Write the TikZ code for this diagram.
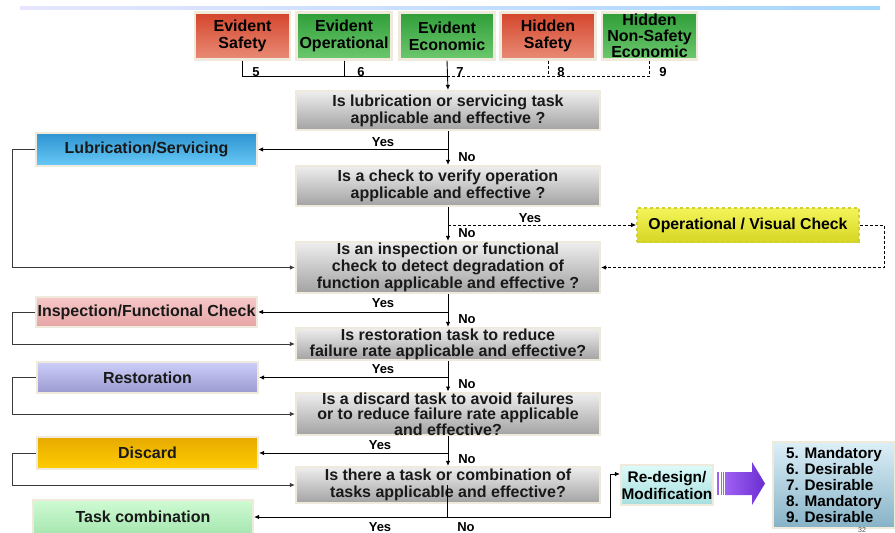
\documentclass[tikz,border=0pt]{standalone}
\usepackage{fontspec}
\setmainfont{Liberation Sans}
\usetikzlibrary{arrows.meta,calc}
\definecolor{edgebeige}{HTML}{EFEADB}
\definecolor{redtop}{HTML}{D4452B}
\definecolor{redbot}{HTML}{E98C77}
\definecolor{greentop}{HTML}{2F9E38}
\definecolor{greenbot}{HTML}{6DC86E}
\definecolor{graytop}{HTML}{EEEEEE}
\definecolor{graybot}{HTML}{A2A2A2}
\definecolor{lubtop}{HTML}{2E93D0}
\definecolor{lubbot}{HTML}{68CAF8}
\definecolor{ovctop}{HTML}{F4F45A}
\definecolor{ovcbot}{HTML}{D6D624}
\definecolor{ovcedge}{HTML}{CFCF3A}
\definecolor{insptop}{HTML}{F6C8C8}
\definecolor{inspbot}{HTML}{E6A4A4}
\definecolor{resttop}{HTML}{CECEFA}
\definecolor{restbot}{HTML}{9A9AD0}
\definecolor{disctop}{HTML}{E6AA00}
\definecolor{discbot}{HTML}{FFCC00}
\definecolor{tasktop}{HTML}{CFFBD3}
\definecolor{taskbot}{HTML}{A6E6B0}
\definecolor{rdtop}{HTML}{DDFAFA}
\definecolor{rdbot}{HTML}{A6DEDE}
\definecolor{restop}{HTML}{DCEFF8}
\definecolor{resbot}{HTML}{86B2C6}
\definecolor{purpA}{HTML}{A060F4}
\definecolor{purpB}{HTML}{6A2ED0}
\definecolor{fbgray}{HTML}{3A3A3A}
\tikzset{
  base/.style={draw=edgebeige, line width=2.2pt, inner sep=0pt, align=center, text=black},
  topbox/.style={base, minimum width=95pt, minimum height=47pt, font=\bfseries\fontsize{16}{17}\selectfont},
  redbox/.style={topbox, top color=redtop, bottom color=redbot},
  greenbox/.style={topbox, top color=greentop, bottom color=greenbot},
  qbox/.style={base, top color=graytop, bottom color=graybot, minimum width=304pt, font=\bfseries\fontsize{16}{17}\selectfont, text=black!90},
  abox/.style={base, minimum width=221pt, font=\bfseries\fontsize{16}{17}\selectfont, text=black!90},
  lbl/.style={inner sep=0pt, font=\bfseries\fontsize{13}{14}\selectfont},
  ln/.style={draw=black, line width=0.9pt},
  dln/.style={ln, dashed, dash pattern=on 3pt off 2pt},
  arr/.style={ln, -{Latex[length=5pt,width=4.5pt]}},
  darr/.style={dln, -{Latex[length=5pt,width=4.5pt]}},
  fbarr/.style={draw=fbgray, line width=0.9pt, -{Latex[length=5pt,width=4.5pt]}},
}
\begin{document}
\begin{tikzpicture}[x=1pt,y=-1pt]
\useasboundingbox (0,0) rectangle (895,533);
% top rule
\shade[left color=blue!10, right color=blue!45!cyan!35] (20,6.5) rectangle (880,9.5);
% top category boxes
\node[redbox]   (es)  at (242.5,36) {Evident\\Safety};
\node[greenbox] (eo)  at (344,36)   {Evident\\Operational};
\node[greenbox] (ee)  at (447,36)   {Evident\\Economic};
\node[redbox]   (hs)  at (548,36)   {Hidden\\Safety};
\node[greenbox, font=\bfseries\fontsize{16}{16}\selectfont] (hns) at (649.5,36) {Hidden\\Non-Safety\\Economic};
\coordinate (j) at (447,76);
\draw[ln] (es.south) |- (j);
\draw[ln] (eo.south) -- (eo.south |- j);
\draw[dln] (j) -| (hns.south);
\draw[dln] (hs.south) -- (hs.south |- j);
\node[lbl] (n5) at (256,72) {5};
\node[lbl] (n6) at (361,72) {6};
\node[lbl] (n7) at (460,72) {7};
\node[lbl] (n8) at (561,72) {8};
\node[lbl] (n9) at (663,72) {9};
% questions
\node[qbox, minimum height=39pt] (q1) at (448,110.5) {Is lubrication or servicing task\\applicable and effective ?};
\node[qbox, minimum height=40pt] (q2) at (448,186) {Is a check to verify operation\\applicable and effective ?};
\node[qbox, minimum height=51pt] (q3) at (448,267.5) {Is an inspection or functional\\check to detect degradation of\\function applicable and effective ?};
\node[qbox, minimum height=32pt, font=\bfseries\fontsize{16}{16}\selectfont] (q4) at (448,344) {Is restoration task to reduce\\failure rate applicable and effective?};
\node[qbox, minimum height=42pt, font=\bfseries\fontsize{16}{15.5}\selectfont] (q5) at (448,414) {Is a discard task to avoid failures\\or to reduce failure rate applicable\\and effective?};
\node[qbox, minimum height=36pt] (q6) at (448,485) {Is there a task or combination of\\tasks applicable and effective?};
% action boxes
\node[abox, minimum height=33pt, top color=lubtop, bottom color=lubbot] (lub) at (146.5,149.5) {Lubrication/Servicing};
\node[abox, minimum height=30pt, top color=insptop, bottom color=inspbot] (insp) at (146.5,312) {Inspection/Functional Check};
\node[abox, minimum height=31pt, top color=resttop, bottom color=restbot] (rest) at (147.5,377.5) {Restoration};
\node[abox, minimum height=32pt, top color=disctop, bottom color=discbot] (disc) at (147.5,453) {Discard};
\node[abox, minimum height=34pt, minimum width=220pt, top color=tasktop, bottom color=taskbot] (task) at (143,517) {Task combination};
\node[base, draw=ovcedge, dashed, line width=1.6pt, minimum width=222pt, minimum height=34pt, top color=ovctop, bottom color=ovcbot, font=\bfseries\fontsize{15.8}{17}\selectfont] (ovc) at (748,225) {Operational / Visual Check};
\node[base, minimum width=92pt, minimum height=40pt, top color=rdtop, bottom color=rdbot, font=\bfseries\fontsize{15.4}{17}\selectfont] (rd) at (667,485) {Re-design/\\Modification};
\node[base, minimum width=122pt, minimum height=86pt, top color=restop, bottom color=resbot, align=left, font=\bfseries\fontsize{15.3}{16}\selectfont] (res) at (834,485) {5. Mandatory\\6. Desirable\\7. Desirable\\8. Mandatory\\9. Desirable};
\node[inner sep=0pt, font=\fontsize{7}{8}\selectfont, text=black!70] (pg) at (862,530) {32};
% purple arrow
\shade[left color=purpA, right color=purpB] (725,472) -- (752,472) -- (752,462) -- (765,483.5) -- (752,505) -- (752,495) -- (725,495) -- cycle;
\fill[purpA] (717,472) rectangle (719,495);
\fill[purpA] (720.5,472) rectangle (722,495);
\fill[purpA] (723,472) rectangle (724,495);
% main flow
\draw[arr] (ee.south) -- (q1.north);
\draw[arr] (q1.south) -- (q2.north);
\draw[arr] (q2.south) -- (q3.north);
\draw[arr] (q3.south) -- (q4.north);
\draw[arr] (q4.south) -- (q5.north);
\draw[arr] (q5.south) -- (q6.north);
% yes branches
\draw[arr] (lub.east -| q1.south) -- (lub.east);
\draw[arr] (insp.east -| q3.south) -- (insp.east);
\draw[arr] (rest.east -| q4.south) -- (rest.east);
\draw[arr] (disc.east -| q5.south) -- (disc.east);
\draw[darr] (ovc.west -| q2.south) -- (ovc.west);
\coordinate (R) at (884,0);
\draw[darr] (ovc.east) -- (ovc.east -| R) |- (q3.east);
% feedback lines
\coordinate (L) at (12,0);
\draw[fbarr] (lub.west) -- (lub.west -| L) |- (q3.west);
\draw[fbarr] (insp.west) -- (insp.west -| L) |- (q4.west);
\draw[fbarr] (rest.west) -- (rest.west -| L) |- (q5.west);
\draw[fbarr] (disc.west) -- (disc.west -| L) |- (q6.west);
% last question
\coordinate (bj) at (447,517);
\coordinate (rj) at (610,517);
\draw[ln] (q6.center -| bj) -- (bj);
\draw[arr] (bj) -- (task.east);
\draw[arr] (bj) -- (rj) |- ($(rd.west)+(0,-11)$);
% labels
\node[lbl] (y1) at (383,142) {Yes};
\node[lbl] (y2) at (530,218) {Yes};
\node[lbl] (y3) at (383,303) {Yes};
\node[lbl] (y4) at (383,369) {Yes};
\node[lbl] (y5) at (380,445) {Yes};
\node[lbl] (y6) at (380,527) {Yes};
\node[lbl] (o1) at (467,157) {No};
\node[lbl] (o2) at (467,233) {No};
\node[lbl] (o3) at (467,319) {No};
\node[lbl] (o4) at (467,384) {No};
\node[lbl] (o5) at (467,459) {No};
\node[lbl] (o6) at (466,527) {No};
\end{tikzpicture}
\end{document}
